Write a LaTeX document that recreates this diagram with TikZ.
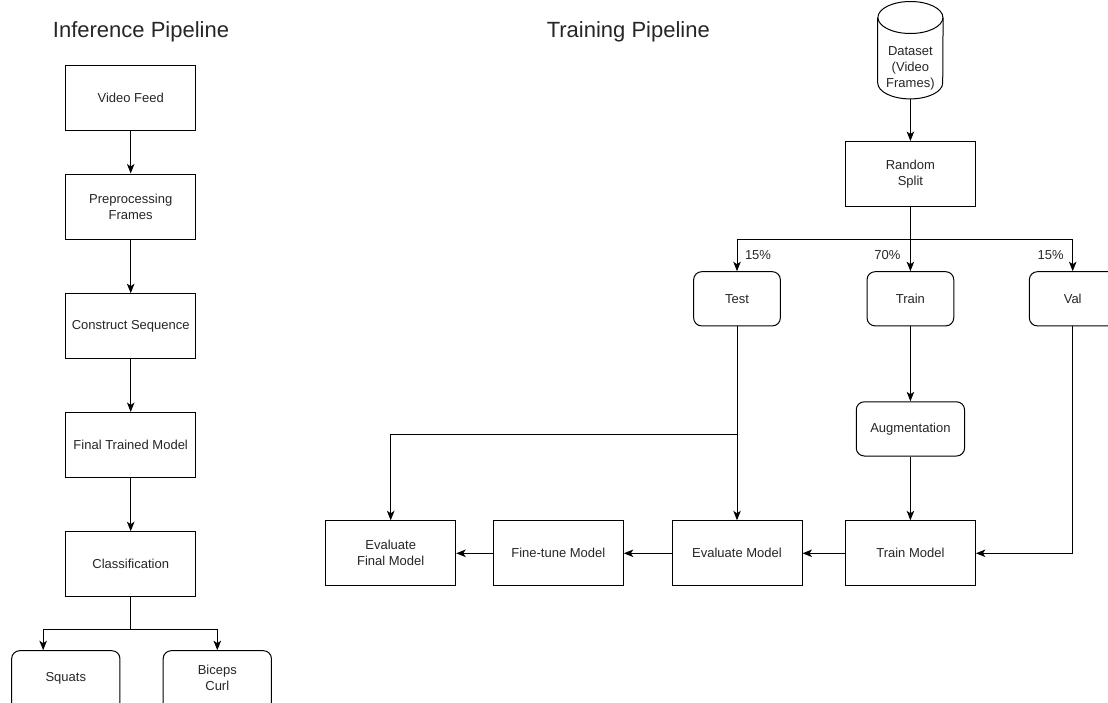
\documentclass[tikz,border=0pt]{standalone}
\usepackage{fontspec}
\setmainfont{Liberation Sans}
\usetikzlibrary{arrows.meta,calc}
\definecolor{ink}{HTML}{262626}
\tikzset{
  base/.style={font=\fontsize{13}{16}\selectfont, text=ink, align=center, inner sep=0pt},
  box/.style={base, draw=black, line width=1pt, fill=white, minimum width=130pt, minimum height=65pt},
  rbox/.style={base, draw=black, line width=1pt, fill=white, rounded corners=8pt, minimum width=86.7pt, minimum height=54.2pt},
  wbox/.style={rbox, minimum width=108.3pt},
  tallbox/.style={wbox, minimum height=70pt},
  heading/.style={font=\fontsize{22}{26}\selectfont, text=ink, inner sep=0pt},
  pct/.style={base},
  link/.style={draw=black, line width=1pt},
  arr/.style={link, -{Stealth[length=9.5pt,width=7.5pt,inset=2.5pt]}},
}
\begin{document}
\begin{tikzpicture}[x=1pt, y=-1pt]
\useasboundingbox (0,0) rectangle (1108,702);
\clip (0,0) rectangle (1108,702);

% headings
\node[heading] (h1) at (141,32) {Inference Pipeline};
\node[heading] (h2) at (628.3,32) {Training Pipeline};

% inference column
\node[box] (vf)  at (130.7,98.2)  {Video Feed};
\node[box] (pp)  at (130.7,206.5) {Preprocessing\\Frames};
\node[box] (cs)  at (130.7,326.2) {Construct Sequence};
\node[box] (ftm) at (130.7,445)   {Final Trained Model};
\node[box] (cls) at (130.7,564.2) {Classification};
% class boxes run past the lower edge of the page
\node[tallbox] (sq) at (65.8,685.7)  {};
\node[tallbox] (bc) at (217.3,685.7) {};
\node[base] (sqt) at (65.8,677.8)  {Squats};
\node[base] (bct) at (217.3,677.8) {Biceps\\Curl};

\draw[arr] (vf) -- (pp);
\draw[arr] (pp) -- (cs);
\draw[arr] (cs) -- (ftm);
\draw[arr] (ftm) -- (cls);
\draw[arr] (cls.south) -- ++(0,32.6) -| ([xshift=32pt]sq.north west);
\draw[arr] (cls.south) -- ++(0,32.6) -| (bc.north);

% dataset cylinder
\node[base, minimum width=65pt, minimum height=97pt] (ds) at (910.4,50.2) {};
\draw[link, fill=white]
  ($(ds.north west)+(0,16)$) -- ($(ds.south west)+(0,-16)$)
  arc[start angle=180, end angle=360, x radius=32.5pt, y radius=16pt]
  -- ($(ds.north east)+(0,16)$);
\draw[link, fill=white] ($(ds.north)+(0,16)$) ellipse [x radius=32.5pt, y radius=16pt];
\node[base] (dstext) at (910.4,68.7) {Dataset\\(Video\\Frames)};

% training column
\node[box]  (rs)  at (910.4,174)   {Random\\Split};
\node[rbox] (te)  at (737,298.8)   {Test};
\node[rbox] (tr)  at (910.4,298.8) {Train};
\node[rbox] (va)  at (1072.7,298.8) {Val};
\node[wbox] (aug) at (910.4,428.9) {Augmentation};
\node[box]  (tm)  at (910.4,553.3) {Train Model};
\node[box]  (em)  at (737,553.3)   {Evaluate Model};
\node[box]  (fm)  at (558.3,553.3) {Fine-tune Model};
\node[box]  (efm) at (390.7,553.3) {Evaluate\\Final Model};

\draw[arr] (ds.south) -- (rs.north);
\draw[arr] (rs.south) -- ++(0,32.3) -| (te.north);
\draw[arr] (rs.south) -- (tr.north);
\draw[arr] (rs.south) -- ++(0,32.3) -| (va.north);
\node[pct] (p1) at (758,255)    {15\%};
\node[pct] (p2) at (887.3,255)  {70\%};
\node[pct] (p3) at (1050.7,255) {15\%};

\draw[arr] (tr) -- (aug);
\draw[arr] (aug) -- (tm);
\draw[arr] (va.south) |- (tm.east);
\draw[arr] (te.south) -- (em.north);
\coordinate (tj) at (737,434.3);
\draw[arr] (tj) -| (efm.north);
\draw[arr] (tm) -- (em);
\draw[arr] (em) -- (fm);
\draw[arr] (fm) -- (efm);
\end{tikzpicture}
\end{document}
